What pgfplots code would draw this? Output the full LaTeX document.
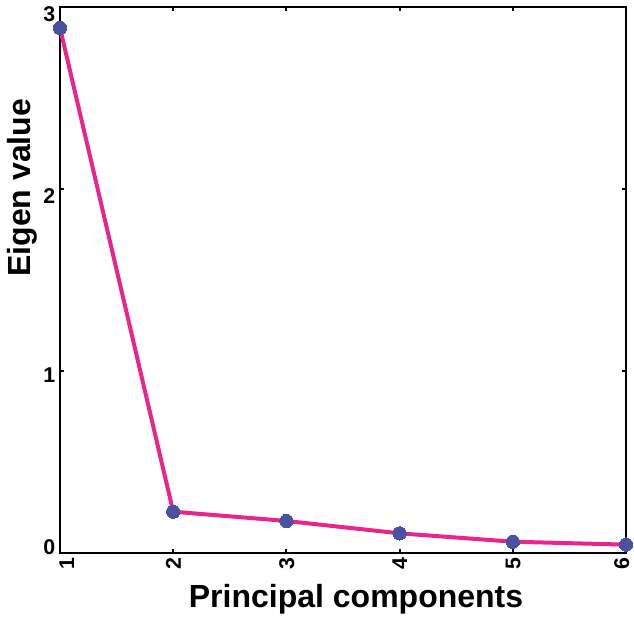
\documentclass[border=0pt]{standalone}
\usepackage{pgfplots}
\pgfplotsset{compat=1.18}
\usepackage{fontspec}
\setmainfont{Liberation Sans}
\definecolor{linemag}{HTML}{E8258C}
\definecolor{markblue}{HTML}{4A519E}
\begin{document}
\begin{tikzpicture}
\begin{axis}[
  name=ax,
  scale only axis,
  width=424.5pt, height=409.5pt,
  xmin=1, xmax=6, ymin=0, ymax=3,
  xtick={1,2,3,4,5,6},
  xticklabels={\raisebox{-10.6pt}[0pt][0pt]{1},\raisebox{-5.7pt}[0pt][0pt]{2},\raisebox{-5.7pt}[0pt][0pt]{3},\raisebox{-5.7pt}[0pt][0pt]{4},\raisebox{-5.7pt}[0pt][0pt]{5},\raisebox{-2.3pt}[0pt][0pt]{6}},
  ytick={0,1,2,3},
  yticklabels={\raisebox{-0.8pt}[0pt][0pt]{0},\raisebox{-8.7pt}[0pt][0pt]{1},\raisebox{-10.6pt}[0pt][0pt]{2},\raisebox{-10.6pt}[0pt][0pt]{3}},
  tick align=inside,
  major tick length=3pt,
  axis line style={line width=1.4pt},
  tick style={line width=1.4pt, black},
  ticklabel style={font=\fontsize{16}{18}\selectfont\bfseries},
  xticklabel style={rotate=90, anchor=east},
  yticklabel style={anchor=east},
  xlabel={Principal components},
  ylabel={Eigen value},
  label style={font=\fontsize{24}{27}\selectfont\bfseries, inner sep=0pt},
  xlabel style={at={(axis description cs:0.523,-0.0989)}, anchor=base},
  ylabel style={at={(axis description cs:-0.0936,0.669)}, anchor=north, rotate=0},
  clip=true,
]
\addplot[color=linemag, line width=3pt, mark=*, mark size=5pt,
  mark options={fill=markblue, draw=markblue, line width=0pt}]
  coordinates {(1,2.885) (2,0.227) (3,0.176) (4,0.108) (5,0.062) (6,0.046)};
\end{axis}
\pgfresetboundingbox
\path[use as bounding box] ([xshift=-45pt,yshift=-50.25pt]ax.south west) rectangle ([xshift=6pt,yshift=5.25pt]ax.north east);
\end{tikzpicture}
\end{document}
